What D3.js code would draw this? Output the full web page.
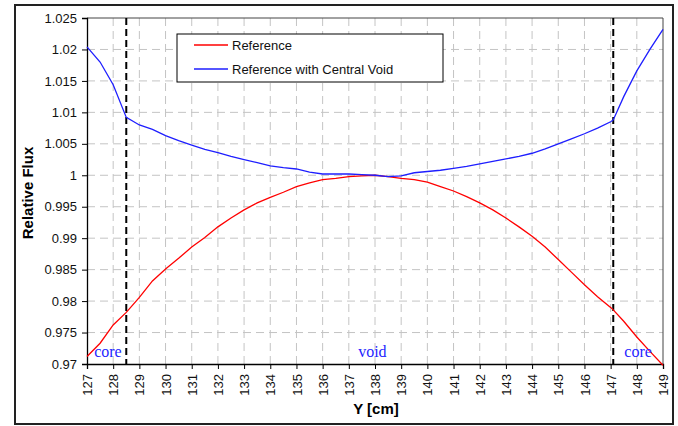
<!DOCTYPE html>
<html>
<head>
<meta charset="utf-8">
<script src="https://cdn.jsdelivr.net/npm/d3@7"></script>
<style>
  body { margin: 0; background: #fff; }
  svg { display: block; font-family: Arial, "Liberation Sans", sans-serif; }
</style>
</head>
<body>
<svg width="678" height="426"></svg>
<script>
// positions along Y [cm]
let yPos = [127, 127.5, 128, 128.5, 129, 129.5, 130, 130.5, 131, 131.5, 132, 132.5, 133, 133.5,
  134, 134.5, 135, 135.5, 136, 136.5, 137, 137.5, 138, 138.5, 139, 139.5, 140, 140.5, 141, 141.5,
  142, 142.5, 143, 143.5, 144, 144.5, 145, 145.5, 146, 146.5, 147, 147.1, 147.5, 148, 148.5, 149]

let refFlux = [0.9712, 0.9733, 0.9762, 0.9782, 0.9806, 0.9832, 0.9851, 0.9868, 0.9886, 0.9901,
  0.9918, 0.9932, 0.9945, 0.9956, 0.9965, 0.9973, 0.9982, 0.9988, 0.9993, 0.9995, 0.9998, 0.9999,
  1.0000, 0.9998, 0.9995, 0.9993, 0.9989, 0.9982, 0.9975, 0.9966, 0.9956, 0.9945, 0.9932, 0.9918,
  0.9903, 0.9886, 0.9866, 0.9846, 0.9826, 0.9807, 0.9790, 0.9786, 0.9768, 0.9743, 0.9720, 0.9698]

let voidFlux = [1.0204, 1.0180, 1.0144, 1.0092, 1.0080, 1.0073, 1.0063, 1.0055, 1.0048, 1.0041,
  1.0036, 1.0030, 1.0025, 1.0020, 1.0015, 1.0012, 1.0010, 1.0005, 1.0002, 1.0002, 1.0002, 1.0001,
  1.0000, 0.9998, 0.9999, 1.0004, 1.0006, 1.0008, 1.0011, 1.0014, 1.0018, 1.0022, 1.0026, 1.0030,
  1.0035, 1.0042, 1.0050, 1.0058, 1.0066, 1.0075, 1.0085, 1.0088, 1.0125, 1.0166, 1.0200, 1.0232]

let xTicks = d3.range(127, 150, 1)
let yTicks = [0.97, 0.975, 0.98, 0.985, 0.99, 0.995, 1, 1.005, 1.01, 1.015, 1.02, 1.025]
let coreEdges = [128.5, 147.1]
let regionLabels = [{ x: 127.8, text: "core" }, { x: 137.9, text: "void" }, { x: 148.05, text: "core" }]
let seriesNames = ["Reference", "Reference with Central Void"]
let seriesColors = ["#ff0000", "#1e1eff"]

let svg = d3.select("svg")

let plotLeft = 87, plotTop = 18, plotRight = 663, plotBottom = 364

let x = d3.scaleLinear().domain([127, 149]).range([plotLeft, plotRight])
let y = d3.scaleLinear().domain([0.97, 1.025]).range([plotBottom, plotTop])

// outer frame
svg.append("rect")
  .attr("x", 15).attr("y", 5)
  .attr("width", 658).attr("height", 419)
  .style("fill", "none")
  .style("stroke", "#222")
  .style("stroke-width", 2)

// grid
svg.selectAll(".hgrid")
  .data(yTicks.slice(1, -1))
  .join("line")
  .attr("x1", plotLeft).attr("x2", plotRight)
  .attr("y1", d => y(d)).attr("y2", d => y(d))
  .style("stroke", "#c4c4c4")
  .style("stroke-dasharray", "8,5")

svg.selectAll(".vgrid")
  .data(xTicks.slice(1, -1))
  .join("line")
  .attr("x1", d => x(d)).attr("x2", d => x(d))
  .attr("y1", plotTop).attr("y2", plotBottom)
  .style("stroke", "#c4c4c4")
  .style("stroke-dasharray", "8,5")

// plot border (top/right)
svg.append("path")
  .attr("d", `M${plotLeft},${plotTop}H${plotRight}V${plotBottom}`)
  .style("fill", "none")
  .style("stroke", "#444")
  .style("stroke-width", 1)

// axes
let yAxis = d3.axisLeft(y)
  .tickValues(yTicks)
  .tickSize(5)
  .tickFormat(d => String(+d.toFixed(3)))

let gy = svg.append("g")
  .attr("transform", `translate(${plotLeft},0)`)
  .call(yAxis)
gy.select(".domain").style("stroke", "#000").style("stroke-width", 1.3)
gy.selectAll("text")
  .style("font-size", "13px")
  .style("font-family", "Arial, 'Liberation Sans', sans-serif")
  .style("fill", "#111")
  .attr("x", -10)

let xAxis = d3.axisBottom(x)
  .tickValues(xTicks)
  .tickSize(5)
  .tickFormat(d3.format("d"))

let gx = svg.append("g")
  .attr("transform", `translate(0,${plotBottom})`)
  .call(xAxis)
gx.select(".domain").style("stroke", "#000").style("stroke-width", 1.3)
gx.selectAll("text")
  .style("font-size", "13px")
  .style("font-family", "Arial, 'Liberation Sans', sans-serif")
  .style("fill", "#111")
  .attr("transform", "rotate(-90)")
  .attr("text-anchor", "end")
  .attr("x", -10)
  .attr("y", 0)
  .attr("dy", "0.35em")

// axis titles
svg.append("text")
  .attr("transform", "translate(33,193) rotate(-90)")
  .attr("text-anchor", "middle")
  .style("font-size", "15px")
  .style("font-weight", "bold")
  .text("Relative Flux")

svg.append("text")
  .attr("x", 376).attr("y", 414)
  .attr("text-anchor", "middle")
  .style("font-size", "15px")
  .style("font-weight", "bold")
  .text("Y [cm]")

// core boundaries
svg.selectAll(".edge")
  .data(coreEdges)
  .join("line")
  .attr("x1", d => x(d)).attr("x2", d => x(d))
  .attr("y1", plotTop).attr("y2", plotBottom)
  .style("stroke", "#000")
  .style("stroke-width", 2)
  .style("stroke-dasharray", "7,4")

// curves
let line = d3.line()
  .x((d, i) => x(yPos[i]))
  .y(d => y(d))

svg.selectAll(".series")
  .data([refFlux, voidFlux])
  .join("path")
  .attr("d", d => line(d))
  .style("fill", "none")
  .style("stroke", (d, i) => seriesColors[i])
  .style("stroke-width", 1.3)

// region labels
svg.selectAll(".region")
  .data(regionLabels)
  .join("text")
  .attr("x", d => x(d.x))
  .attr("y", 357)
  .attr("text-anchor", "middle")
  .style("font-family", "'Liberation Serif', 'Times New Roman', serif")
  .style("font-size", "16px")
  .style("fill", "#1e1eff")
  .text(d => d.text)

// legend
let legend = svg.append("g").attr("transform", "translate(177,34)")
legend.append("rect")
  .attr("width", 266).attr("height", 48)
  .style("fill", "#fff")
  .style("stroke", "#000")
  .style("stroke-width", 1)

let items = legend.selectAll(".item")
  .data(seriesNames)
  .join("g")
  .attr("transform", (d, i) => `translate(0,${11 + i * 24})`)

items.append("line")
  .attr("x1", 17).attr("x2", 51)
  .style("stroke", (d, i) => seriesColors[i])
  .style("stroke-width", 1.3)

items.append("text")
  .attr("x", 55)
  .attr("dy", "0.35em")
  .style("font-size", "13px")
  .style("fill", "#111")
  .text(d => d)
</script>
</body>
</html>
